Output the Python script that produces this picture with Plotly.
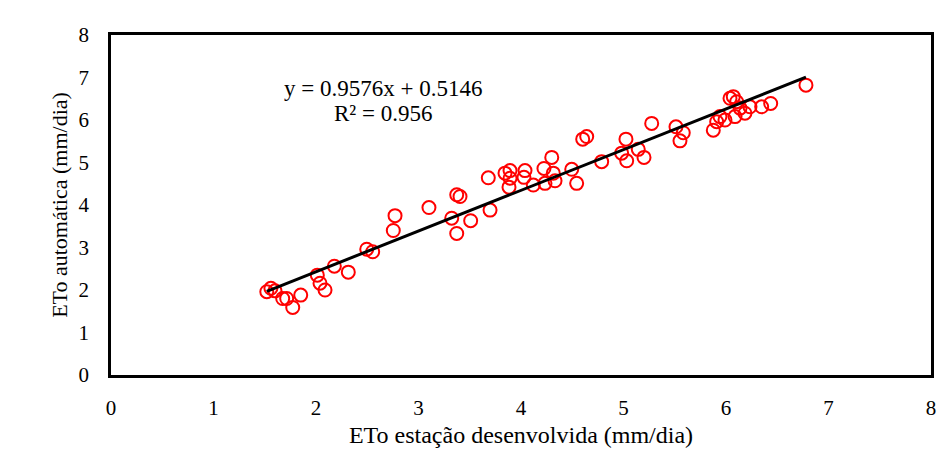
import plotly.graph_objects as go

# ETo from the developed station (x) vs. automatic station (y), mm/day
eto_station = [1.52, 1.56, 1.60, 1.675, 1.714, 1.773, 1.851, 2.013, 2.039, 2.088,
               2.179, 2.315, 2.495, 2.553, 2.754, 2.771, 3.102, 3.324, 3.373, 3.373,
               3.405, 3.509, 3.698, 3.681, 3.844, 3.893, 3.893, 3.883, 4.039, 4.029,
               4.12, 4.224, 4.30, 4.234, 4.315, 4.332, 4.495, 4.543, 4.602, 4.641,
               4.787, 4.982, 5.024, 5.031, 5.144, 5.20, 5.275, 5.512, 5.583, 5.551,
               5.876, 5.909, 5.941, 5.99, 6.039, 6.071, 6.104, 6.088, 6.137, 6.185,
               6.234, 6.348, 6.436, 6.78]
eto_auto = [1.96, 2.04, 1.98, 1.80, 1.80, 1.59, 1.88, 2.35, 2.16, 2.00,
            2.56, 2.42, 2.96, 2.90, 3.40, 3.75, 3.94, 3.69, 3.33, 4.24,
            4.20, 3.63, 3.88, 4.64, 4.75, 4.81, 4.63, 4.42, 4.81, 4.65,
            4.47, 4.86, 5.12, 4.51, 4.75, 4.57, 4.84, 4.51, 5.55, 5.61,
            5.02, 5.22, 5.55, 5.04, 5.31, 5.12, 5.92, 5.84, 5.70, 5.51,
            5.76, 5.96, 6.08, 6.00, 6.51, 6.55, 6.43, 6.08, 6.28, 6.16,
            6.31, 6.31, 6.39, 6.82]

slope = 0.9576
intercept = 0.5146
r_squared = 0.956

x_ticks = [0, 1, 2, 3, 4, 5, 6, 7, 8]
y_ticks = [0, 1, 2, 3, 4, 5, 6, 7, 8]

font_family = "Liberation Serif, Times New Roman, serif"

x_fit = [min(eto_station), max(eto_station)]
y_fit = [slope * v + intercept for v in x_fit]

fig = go.Figure()
fig.add_trace(go.Scatter(
    x=eto_station, y=eto_auto, mode="markers",
    marker=dict(symbol="circle-open", size=13, color="#ff0000",
                line=dict(width=2, color="#ff0000")),
    showlegend=False, cliponaxis=False,
))
fig.add_trace(go.Scatter(
    x=x_fit, y=y_fit, mode="lines",
    line=dict(color="black", width=3),
    showlegend=False,
))

fig.add_annotation(x=2.65, y=6.75, xref="x", yref="y",
                   text=f"y = {slope}x + {intercept}", showarrow=False,
                   font=dict(family=font_family, size=23, color="black"))
fig.add_annotation(x=2.65, y=6.16, xref="x", yref="y",
                   text=f"R² = {r_squared}", showarrow=False,
                   font=dict(family=font_family, size=23, color="black"))

fig.update_layout(
    width=950, height=462,
    paper_bgcolor="white", plot_bgcolor="white",
    margin=dict(l=111, r=19, t=35, b=87),
    font=dict(family=font_family, size=21, color="black"),
    xaxis=dict(
        range=[0, 8], tickvals=x_ticks, showgrid=False, zeroline=False,
        showline=True, linecolor="black", linewidth=2.5, mirror=True,
        ticks="", ticklabelstandoff=12,
        title=dict(text="ETo estação desenvolvida (mm/dia)", standoff=8,
                   font=dict(size=24)),
    ),
    yaxis=dict(
        range=[0, 8], tickvals=y_ticks, showgrid=False, zeroline=False,
        showline=True, linecolor="black", linewidth=2.5, mirror=True,
        ticks="", ticklabelstandoff=15,
        title=dict(text="ETo automática (mm/dia)", standoff=5,
                   font=dict(size=22)),
    ),
)

fig.write_html("out.html")
